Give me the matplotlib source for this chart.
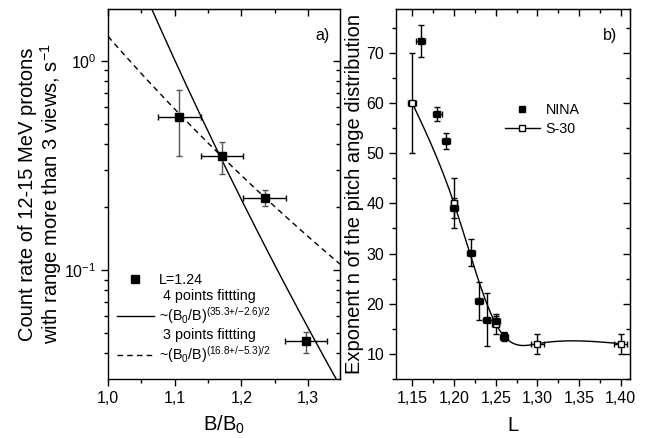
import numpy as np
import matplotlib
matplotlib.use("Agg")
import matplotlib.pyplot as plt
from matplotlib.lines import Line2D
from matplotlib.ticker import FixedLocator, MultipleLocator, LogLocator, NullFormatter

plt.rcParams['font.family'] = ['Liberation Sans', 'DejaVu Sans']
plt.rcParams['mathtext.fontset'] = 'custom'
plt.rcParams['mathtext.rm'] = 'Liberation Sans'
plt.rcParams['mathtext.it'] = 'Liberation Sans'

# panel a) count rate vs B/B0, L=1.24
a_x = [1.107, 1.171, 1.235, 1.297]
a_xerr = [0.032, 0.032, 0.032, 0.032]
a_y = [0.538, 0.350, 0.221, 0.0456]
a_ylo = [0.351, 0.287, 0.202, 0.0401]
a_yhi = [0.727, 0.411, 0.241, 0.0507]

# power-law fits ~ amp * (B/B0)^(-exp)
fit4_amp, fit4_exp = 5.43, 35.3 / 2
fit3_amp, fit3_exp = 1.31, 16.8 / 2

a_xticks = [1.0, 1.1, 1.2, 1.3]
a_xlabels = ["1,0", "1,1", "1,2", "1,3"]

# panel b) exponent n vs L
nina_L = [1.16, 1.18, 1.19, 1.20, 1.22, 1.23, 1.24, 1.25, 1.26]
nina_n = [72.5, 57.8, 52.5, 39.0, 30.2, 20.6, 16.8, 16.5, 13.3]
nina_err = [3.2, 1.4, 1.6, 2.0, 2.7, 3.8, 5.3, 1.0, 0.8]
nina_Lerr = [0.005] * 9

s30_L = [1.15, 1.20, 1.25, 1.26, 1.30, 1.40]
s30_n = [60.0, 40.0, 16.0, 13.5, 12.0, 12.0]
s30_err = [10.0, 5.0, 2.0, 0.8, 2.0, 2.0]
s30_Lerr = [0.005, 0.004, 0.004, 0.004, 0.008, 0.008]

b_xticks = [1.15, 1.20, 1.25, 1.30, 1.35, 1.40]
b_xlabels = ["1,15", "1,20", "1,25", "1,30", "1,35", "1,40"]
b_yticks = [10, 20, 30, 40, 50, 60, 70]


def natural_spline(x, y, xs):
    x = np.asarray(x, float)
    y = np.asarray(y, float)
    n = len(x)
    h = np.diff(x)
    A = np.zeros((n, n))
    r = np.zeros(n)
    A[0, 0] = A[-1, -1] = 1
    for i in range(1, n - 1):
        A[i, i - 1] = h[i - 1]
        A[i, i] = 2 * (h[i - 1] + h[i])
        A[i, i + 1] = h[i]
        r[i] = 3 * ((y[i + 1] - y[i]) / h[i] - (y[i] - y[i - 1]) / h[i - 1])
    c = np.linalg.solve(A, r)
    b = (y[1:] - y[:-1]) / h - h * (2 * c[:-1] + c[1:]) / 3
    d = (c[1:] - c[:-1]) / (3 * h)
    idx = np.clip(np.searchsorted(x, xs) - 1, 0, n - 2)
    dx = xs - x[idx]
    return y[idx] + b[idx] * dx + c[idx] * dx ** 2 + d[idx] * dx ** 3


def inner_twins(ax, xloc, xminor, yloc, yminor, log=False):
    # top/right spines carry inward ticks without labels
    tx = ax.secondary_xaxis('top')
    tx.xaxis.set_major_locator(xloc)
    tx.xaxis.set_minor_locator(xminor)
    tx.tick_params(which='both', direction='in', labeltop=False, width=1)
    tx.tick_params(which='major', length=5)
    tx.tick_params(which='minor', length=3)
    ty = ax.secondary_yaxis('right')
    ty.yaxis.set_major_locator(yloc)
    ty.yaxis.set_minor_locator(yminor)
    if log:
        ty.yaxis.set_minor_formatter(NullFormatter())
    ty.tick_params(which='both', direction='in', labelright=False, width=1)
    ty.tick_params(which='major', length=5)
    ty.tick_params(which='minor', length=3)


fig = plt.figure(figsize=(6.5, 4.38), dpi=100)
axa = fig.add_axes([0.1662, 0.1347, 0.3569, 0.8447])
axb = fig.add_axes([0.6092, 0.1347, 0.3600, 0.8447])

# ---- panel a
axa.set_yscale('log')
axa.set_xlim(1.0, 1.348)
axa.set_ylim(0.0301, 1.77)
xs = np.linspace(1.0, 1.348, 200)
axa.plot(xs, fit4_amp * xs ** (-fit4_exp), color='black', lw=1.0)
axa.plot(xs, fit3_amp * xs ** (-fit3_exp), color='black', lw=1.0, ls=(0, (4, 3)))
ay = np.array(a_y)
axa.errorbar(a_x, a_y, yerr=[ay - np.array(a_ylo), np.array(a_yhi) - ay],
             fmt='none', ecolor='#555555', capsize=2.5, elinewidth=1, capthick=1)
axa.errorbar(a_x, a_y, xerr=a_xerr, fmt='s', color='black', ms=6,
             capsize=2.5, elinewidth=1, capthick=1)
axa.xaxis.set_major_locator(FixedLocator(a_xticks))
axa.set_xticklabels(a_xlabels)
axa.xaxis.set_minor_locator(MultipleLocator(0.05))
axa.yaxis.set_major_locator(LogLocator(base=10))
axa.yaxis.set_minor_locator(LogLocator(base=10, subs=np.arange(2, 10)))
axa.yaxis.set_minor_formatter(NullFormatter())
axa.tick_params(which='both', labelsize=11.5, width=1, direction='out',
                top=False, right=False)
axa.tick_params(which='major', length=5)
axa.tick_params(which='minor', length=3)
inner_twins(axa, FixedLocator(a_xticks), MultipleLocator(0.05),
            LogLocator(base=10), LogLocator(base=10, subs=np.arange(2, 10)), log=True)
axa.set_xlabel(r'B/B$_0$', fontsize=14.5, labelpad=6)
axa.set_ylabel('Count rate of 12-15 MeV protons\nwith range more than 3 views, s$^{-1}$',
               fontsize=14.5, linespacing=1.05)
axa.yaxis.set_label_coords(-0.19, 0.5)
axa.text(0.955, 0.95, 'a)', transform=axa.transAxes, ha='right', va='top', fontsize=11.5)

blank = Line2D([], [], color='none')
handles_a = [Line2D([], [], ls='none', marker='s', color='black', ms=6),
             blank,
             Line2D([], [], color='black', lw=1.0),
             blank,
             Line2D([], [], color='black', lw=1.0, ls=(0, (4, 3)))]
labels_a = ['L=1.24',
            ' 4 points fittting',
            r'~(B$_0$/B)$^{(35.3{+}/{-}2.6)/2}$',
            ' 3 points fittting',
            r'~(B$_0$/B)$^{(16.8{+}/{-}5.3)/2}$']
axa.legend(handles_a, labels_a, loc='upper left', bbox_to_anchor=(0.0, 0.31),
           frameon=False, fontsize=10.3, handlelength=2.6, handletextpad=0.35,
           labelspacing=0.15, borderaxespad=0.2)

# ---- panel b
axb.set_xlim(1.1304, 1.411)
axb.set_ylim(4.95, 78.8)
Ls = np.linspace(s30_L[0], s30_L[-1], 300)
axb.plot(Ls, natural_spline(s30_L, s30_n, Ls), color='black', lw=1.0)
axb.errorbar(s30_L, s30_n, xerr=s30_Lerr, yerr=s30_err, fmt='s', mfc='white',
             mec='black', color='black', ms=5, capsize=2.5, elinewidth=1, capthick=1)
axb.errorbar(nina_L, nina_n, xerr=nina_Lerr, yerr=nina_err, fmt='s', color='black',
             ms=4.3, capsize=2.5, elinewidth=1, capthick=1)
axb.xaxis.set_major_locator(FixedLocator(b_xticks))
axb.set_xticklabels(b_xlabels)
axb.xaxis.set_minor_locator(MultipleLocator(0.025))
axb.yaxis.set_major_locator(FixedLocator(b_yticks))
axb.yaxis.set_minor_locator(MultipleLocator(5))
axb.tick_params(which='both', labelsize=11.5, width=1, direction='out',
                top=False, right=False)
axb.tick_params(which='major', length=5)
axb.tick_params(which='minor', length=3)
inner_twins(axb, FixedLocator(b_xticks), MultipleLocator(0.025),
            FixedLocator(b_yticks), MultipleLocator(5))
axb.set_xlabel('L', fontsize=14.5, labelpad=7)
axb.set_ylabel('Exponent n of the pitch ange distribution', fontsize=14.5, labelpad=2)
axb.text(0.945, 0.95, 'b)', transform=axb.transAxes, ha='right', va='top', fontsize=11.5)

handles_b = [Line2D([], [], ls='none', marker='s', color='black', ms=5),
             Line2D([], [], color='black', lw=1.0, marker='s', mfc='white', ms=5)]
axb.legend(handles_b, ['NINA', 'S-30'], loc='upper left', bbox_to_anchor=(0.41, 0.78),
           frameon=False, fontsize=10.3, handlelength=2.45, handletextpad=0.4,
           labelspacing=0.3)

for ax in (axa, axb):
    for sp in ax.spines.values():
        sp.set_linewidth(1.0)

fig.savefig('out.png', dpi=100)
